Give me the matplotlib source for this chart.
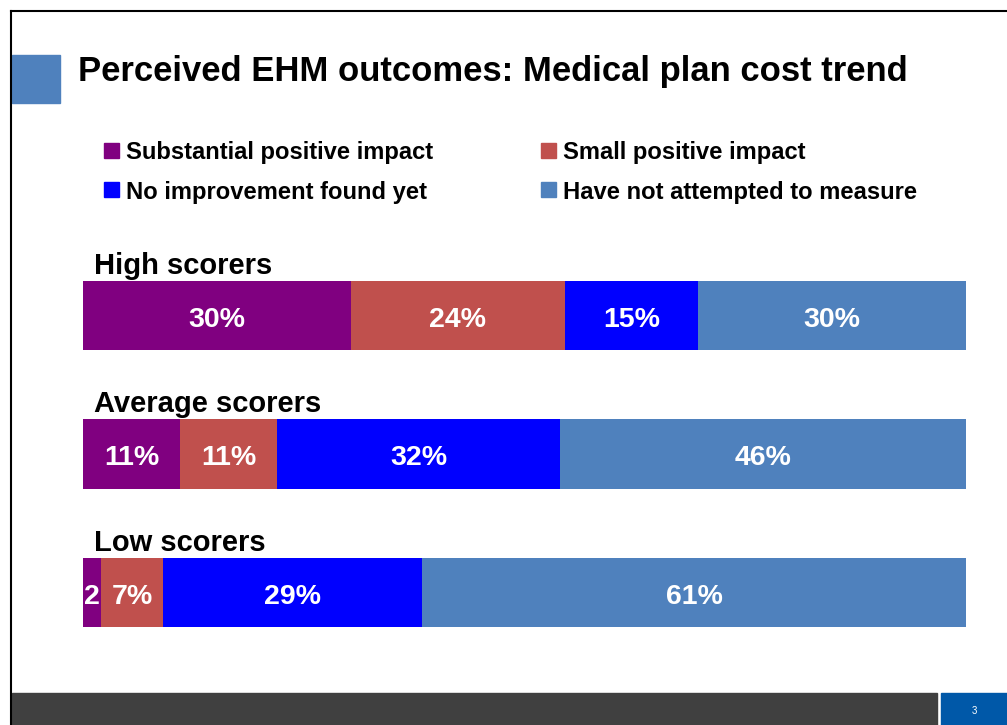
import matplotlib.pyplot as plt
import numpy as np
from matplotlib.patches import Rectangle

plt.rcParams['font.family'] = ['Liberation Sans', 'DejaVu Sans']

groups = ['High scorers', 'Average scorers', 'Low scorers']
series = ['Substantial positive impact', 'Small positive impact',
          'No improvement found yet', 'Have not attempted to measure']
colors = ['#800080', '#C0504D', '#0000FF', '#4F81BD']
substantial = [30, 11, 2]
small = [24, 11, 7]
no_improve = [15, 32, 29]
not_measured = [30, 46, 61]
labels = [['30%', '24%', '15%', '30%'],
          ['11%', '11%', '32%', '46%'],
          ['2', '7%', '29%', '61%']]

W, H = 1007, 725
fig = plt.figure(figsize=(W / 100, H / 100), dpi=100)

def px(x, y):
    return x / W, 1 - y / H

# page frame
fig.add_artist(plt.Line2D([11 / W, 11 / W], [0, 1 - 11 / H], color='black', lw=1.5))
fig.add_artist(plt.Line2D([11 / W, 1], [1 - 11 / H, 1 - 11 / H], color='black', lw=1.5))
# footer bars
fig.add_artist(Rectangle(px(12, 725), 925 / W, 32 / H, color='#404040'))
fig.add_artist(Rectangle(px(941, 725), 66 / W, 32 / H, color='#0058A8'))
fig.text(*px(974, 711), '3', color='white', fontsize=7, ha='center', va='center')
# title square
fig.add_artist(Rectangle(px(12, 103), 48 / W, 48 / H, color='#4F81BD'))
fig.text(*px(78, 72), 'Perceived EHM outcomes: Medical plan cost trend',
         fontsize=24.9, fontweight='bold', va='center')

# legend
leg_pos = [(104, 151), (541, 151), (104, 190), (541, 190)]
for (lx, ly), name, c in zip(leg_pos, series, colors):
    fig.add_artist(Rectangle(px(lx, ly + 7), 15 / W, 15 / H, color=c))
    fig.text(*px(lx + 22, ly + 2), name, fontsize=17.1, fontweight='bold', va='center')

ax = fig.add_axes([83 / W, 1 - 627 / H, 883 / W, 346 / H])
data = np.array([substantial, small, no_improve, not_measured], dtype=float).T
pct = data / data.sum(axis=1, keepdims=True) * 100
y = np.arange(len(groups))
left = np.zeros(len(groups))
for j in range(len(series)):
    ax.barh(y, pct[:, j], left=left, height=0.5, color=colors[j])
    for i in range(len(groups)):
        ax.text(left[i] + pct[i, j] / 2, y[i] + 0.03, labels[i][j], color='white',
                fontsize=20.5, fontweight='bold', ha='center', va='center')
    left += pct[:, j]

for i, g in enumerate(groups):
    ax.text(1.25, y[i] - 0.36, g, fontsize=21, fontweight='bold', va='center')

ax.set_xlim(0, 100)
ax.set_ylim(2.25, -0.25)
ax.axis('off')

fig.savefig('out.png', dpi=100)
